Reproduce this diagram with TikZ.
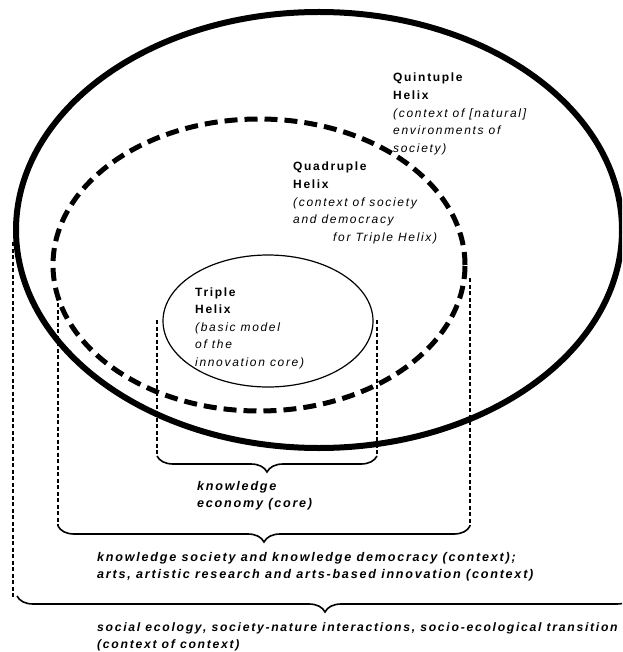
\documentclass[tikz,border=0pt]{standalone}
\usepackage{fontspec}
\setmainfont{Liberation Sans}[LetterSpace=14]
\usetikzlibrary{decorations.pathreplacing}
\tikzset{
  txt/.style={anchor=base west, align=left, inner sep=0pt, font=\fontsize{12}{17.6}\selectfont},
  bigtxt/.style={txt, font=\fontsize{12.6}{17.6}\selectfont\bfseries\itshape},
  outerring/.style={line width=6pt},
  quadring/.style={line width=5pt, dash pattern=on 13pt off 7pt},
  tripring/.style={line width=1.2pt},
  guide/.style={line width=1.3pt, dash pattern=on 4pt off 2.5pt},
  bracepath/.style={line width=1.6pt, decorate, decoration={brace, mirror, amplitude=16pt}},
}
\begin{document}
\begin{tikzpicture}[x=1pt, y=-1pt]
\path[use as bounding box] (0,0) rectangle (622,652);
\clip (0,0) rectangle (622,652);
% ellipses
\coordinate (c5) at (319,230);
\coordinate (c4) at (259,265);
\coordinate (c3) at (268,321);
\draw[outerring] (c5) ellipse [x radius=303pt, y radius=218pt];
\draw[quadring] (c4) ellipse [x radius=206pt, y radius=146pt];
\draw[tripring] (c3) ellipse [x radius=105pt, y radius=66pt];
% guide coordinates
\coordinate (g1t) at (157,320); \coordinate (g1b) at (157,456);
\coordinate (g2t) at (377,320); \coordinate (g2b) at (377,456);
\coordinate (g3t) at (58,303);  \coordinate (g3b) at (58,526);
\coordinate (g4t) at (470,278); \coordinate (g4b) at (470,526);
\coordinate (g5t) at (13,242);  \coordinate (g5b) at (13,597);
\draw[guide] (g1t) -- (g1b);
\draw[guide] (g2t) -- (g2b);
\draw[guide] (g3t) -- (g3b);
\draw[guide] (g4t) -- (g4b);
\draw[guide] (g5t) -- (g5b);
% braces
\coordinate (b3l) at (17,596); \coordinate (b3r) at (633,596);
\draw[bracepath] (g1b) -- (g2b);
\draw[bracepath] (g3b) -- (g4b);
\draw[bracepath] (b3l) -- (b3r);
% texts (anchor = baseline of the last line)
\node[txt] (quint) at (393,152.4) {\textbf{Quintuple}\\\textbf{Helix}\\\textit{(context of [natural]}\\\textit{environments of}\\\textit{society)}};
\node[txt] (quad) at (293,241.4) {\textbf{Quadruple}\\\textbf{Helix}\\\textit{(context of society}\\\textit{and democracy}\\\hspace*{40pt}\textit{for Triple Helix)}};
\node[txt] (trip) at (195,366.4) {\textbf{Triple}\\\textbf{Helix}\\\textit{(basic model}\\\textit{of the}\\\textit{innovation core)}};
\node[bigtxt] (core) at (197,507.6) {knowledge\\economy (core)};
\node[bigtxt] (ctx) at (97,578.6) {knowledge society and knowledge democracy (context);\\arts, artistic research and arts-based innovation (context)};
\node[bigtxt, font=\fontsize{12.2}{17.6}\selectfont\bfseries\itshape] (ctxctx) at (97,648.6) {social ecology, society-nature interactions, socio-ecological transition\\(context of context)};
\end{tikzpicture}
\end{document}
